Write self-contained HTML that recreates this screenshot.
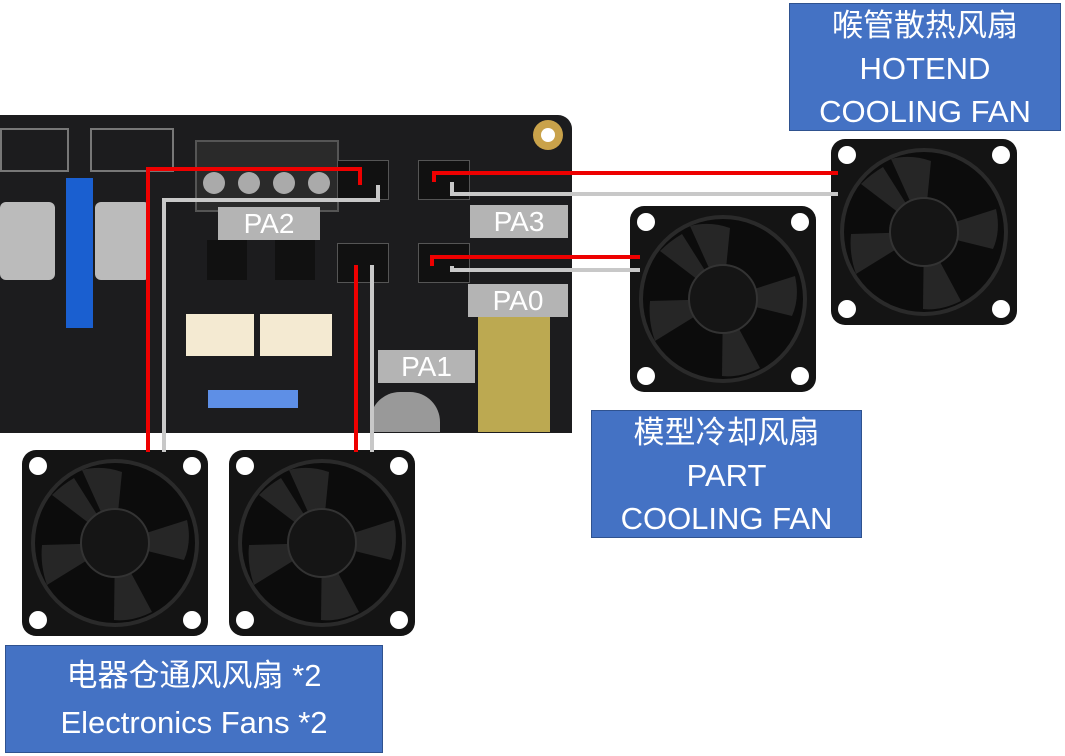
<!DOCTYPE html>
<html><head><meta charset="utf-8"><style>
body{margin:0;width:1065px;height:756px;overflow:hidden;background:#fff;position:relative;font-family:"Liberation Sans","Noto Sans CJK SC",sans-serif}
.a{position:absolute}
.lbl{position:absolute;background:#4472c4;border:1.5px solid #2f528f;color:#fff;text-align:center;font-size:31px;line-height:43px;box-sizing:border-box}
.pa{position:absolute;background:#b4b4b4;color:#fff;font-size:28px;line-height:33px;text-align:center}
</style></head><body>
<!-- board -->
<div class="a" style="left:0;top:115px;width:572px;height:318px;background:#1c1c1e;border-radius:0 14px 0 0"></div>
<div class="a" style="left:533px;top:120px;width:30px;height:30px;border-radius:50%;background:#c9a24a;border:0"></div>
<div class="a" style="left:541px;top:128px;width:14px;height:14px;border-radius:50%;background:#fff"></div>
<!-- terminal blocks -->
<div class="a" style="left:195px;top:140px;width:140px;height:68px;background:#2a2a2a;border:2px solid #555"></div>
<div class="a" style="left:203px;top:172px;width:22px;height:22px;border-radius:50%;background:#aaa"></div>
<div class="a" style="left:238px;top:172px;width:22px;height:22px;border-radius:50%;background:#aaa"></div>
<div class="a" style="left:273px;top:172px;width:22px;height:22px;border-radius:50%;background:#aaa"></div>
<div class="a" style="left:308px;top:172px;width:22px;height:22px;border-radius:50%;background:#aaa"></div>
<div class="a" style="left:90px;top:128px;width:80px;height:40px;border:2px solid #777"></div>
<div class="a" style="left:0;top:128px;width:65px;height:40px;border:2px solid #777"></div>
<!-- blue header -->
<div class="a" style="left:66px;top:178px;width:27px;height:150px;background:#1a5fd0"></div>
<!-- capacitors -->
<div class="a" style="left:0;top:202px;width:55px;height:78px;background:#bbb;border-radius:6px"></div>
<div class="a" style="left:95px;top:202px;width:55px;height:78px;background:#bbb;border-radius:6px"></div>
<div class="a" style="left:370px;top:392px;width:70px;height:40px;background:#999;border-radius:30px 30px 0 0"></div>
<!-- white connectors -->
<div class="a" style="left:186px;top:314px;width:68px;height:42px;background:#f4ead2"></div>
<div class="a" style="left:260px;top:314px;width:72px;height:42px;background:#f4ead2"></div>
<div class="a" style="left:208px;top:390px;width:90px;height:18px;background:#5e8fe6"></div>
<!-- yellow terminal -->
<div class="a" style="left:478px;top:310px;width:72px;height:122px;background:#d8c25a;opacity:.85"></div>
<!-- chips -->
<div class="a" style="left:207px;top:240px;width:40px;height:40px;background:#111"></div>
<div class="a" style="left:275px;top:240px;width:40px;height:40px;background:#111"></div>
<!-- fan connectors -->
<div class="a" style="left:337px;top:160px;width:50px;height:38px;background:#111;border:1px solid #555"></div>
<div class="a" style="left:418px;top:160px;width:50px;height:38px;background:#111;border:1px solid #555"></div>
<div class="a" style="left:337px;top:243px;width:50px;height:38px;background:#111;border:1px solid #555"></div>
<div class="a" style="left:418px;top:243px;width:50px;height:38px;background:#111;border:1px solid #555"></div>

<svg class="a" style="left:0;top:0" width="1065" height="756">
<defs><g id="fan">
<rect x="0" y="0" width="186" height="186" rx="14" fill="#141414"/>
<circle cx="16" cy="16" r="9" fill="#fff"/><circle cx="170" cy="16" r="9" fill="#fff"/>
<circle cx="16" cy="170" r="9" fill="#fff"/><circle cx="170" cy="170" r="9" fill="#fff"/>
<circle cx="93" cy="93" r="84" fill="#2a2a2a"/>
<circle cx="93" cy="93" r="80" fill="#0c0c0c"/>
<g fill="#262626">
<path d="M93 93 L60 20 Q80 15 100 22 Z"/><path d="M93 93 L165 70 Q170 92 162 110 Z"/>
<path d="M93 93 L130 162 Q110 172 92 170 Z"/><path d="M93 93 L25 135 Q18 115 20 95 Z"/>
<path d="M93 93 L30 45 Q40 35 52 28 Z"/></g>
<circle cx="93" cy="93" r="34" fill="#151515" stroke="#333" stroke-width="2"/>
</g></defs>
<use href="#fan" x="22" y="450"/>
<use href="#fan" x="229" y="450"/>
<use href="#fan" x="630" y="206"/>
<use href="#fan" x="831" y="139"/>
<g fill="none" stroke-width="4">
<polyline points="148,452 148,169 360,169 360,185" stroke="#e00"/>
<polyline points="164,452 164,200 378,200 378,185" stroke="#c8c8c8"/>
<polyline points="356,452 356,265" stroke="#e00"/>
<polyline points="372,452 372,265" stroke="#c8c8c8"/>
<polyline points="434,182 434,173 838,173" stroke="#e00"/>
<polyline points="452,182 452,194 838,194" stroke="#c8c8c8"/>
<polyline points="432,266 432,257 640,257" stroke="#e00"/>
<polyline points="452,266 452,270 640,270" stroke="#c8c8c8"/>
</g>
</svg>

<div class="pa" style="left:218px;top:207px;width:102px">PA2</div>
<div class="pa" style="left:470px;top:205px;width:98px">PA3</div>
<div class="pa" style="left:468px;top:284px;width:100px">PA0</div>
<div class="pa" style="left:378px;top:350px;width:97px">PA1</div>

<div class="lbl" style="left:789px;top:3px;width:272px;height:128px;padding-top:0">喉管散热风扇<br>HOTEND<br>COOLING FAN</div>
<div class="lbl" style="left:591px;top:410px;width:271px;height:128px">模型冷却风扇<br>PART<br>COOLING FAN</div>
<div class="lbl" style="left:5px;top:645px;width:378px;height:108px;line-height:47px;padding-top:6px">电器仓通风风扇 *2<br>Electronics Fans *2</div>
</body></html>
